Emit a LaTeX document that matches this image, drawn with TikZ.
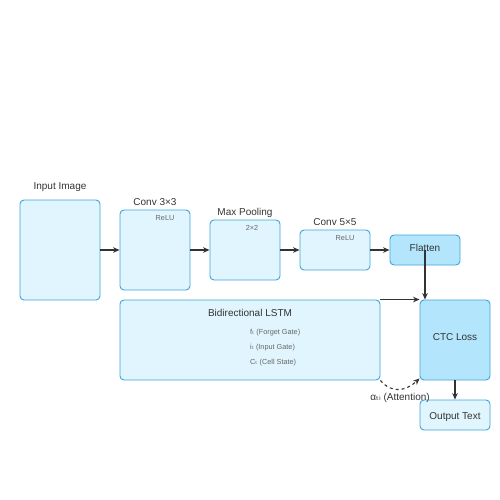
\documentclass[tikz,border=0pt]{standalone}
\usepackage{fontspec}
\setmainfont{Liberation Sans}
\newfontfamily\symfont{DejaVu Sans}
\usetikzlibrary{arrows.meta}
\definecolor{boxfill}{HTML}{E1F5FE}
\definecolor{boxfilldark}{HTML}{B3E5FC}
\definecolor{boxline}{HTML}{3FA4DC}
\definecolor{txt}{HTML}{333333}
\definecolor{smalltxt}{HTML}{666666}
\definecolor{arr}{HTML}{333333}
\tikzset{
  blk/.style={draw=boxline, fill=boxfill, line width=0.9pt, rounded corners=4pt, inner sep=0pt},
  blkdark/.style={blk, fill=boxfilldark},
  lbl/.style={text=txt, font=\fontsize{10}{12}\selectfont, inner sep=0pt},
  sml/.style={text=smalltxt, font=\fontsize{7.3}{8}\selectfont, inner sep=0pt},
  conn/.style={draw=arr, line width=1.1pt, -{Stealth[length=6.5pt,width=5.5pt]}},
}
\begin{document}
\begin{tikzpicture}[x=1pt,y=-1pt]
\useasboundingbox (0,0) rectangle (500,500);
% boxes
\node[blk, minimum width=80pt, minimum height=100pt] (inp) at (60,250) {};
\node[blk, minimum width=70pt, minimum height=80pt] (c3) at (155,250) {};
\node[blk, minimum width=70pt, minimum height=60pt] (mp) at (245,250) {};
\node[blk, minimum width=70pt, minimum height=40pt] (c5) at (335,250) {};
\node[blkdark, minimum width=70pt, minimum height=30pt] (fl) at (425,250) {};
\node[blk, minimum width=260pt, minimum height=80pt] (lstm) at (250,340) {};
\node[blkdark, minimum width=70pt, minimum height=80pt] (ctc) at (455,340) {};
\node[blk, minimum width=70pt, minimum height=30pt] (out) at (455,415) {};
% labels
\node[lbl] (tinp) at (60,187.5) {Input Image};
\node[lbl] (tc3) at (155,202.5) {Conv 3×3};
\node[sml] (rc3) at (165,218) {ReLU};
\node[lbl] (tmp) at (245,212.5) {Max Pooling};
\node[sml] (kmp) at (252,228) {2×2};
\node[lbl] (tc5) at (335,222.5) {Conv 5×5};
\node[sml] (rc5) at (345,238) {ReLU};
\node[lbl] (tfl) at (425,247.5) {Flatten};
\node[lbl] (tlstm) at (250,312.5) {Bidirectional LSTM};
\node[sml, anchor=west] (g1) at (250,333) {f{\symfont ₜ} (Forget Gate)};
\node[sml, anchor=west] (g2) at (250,348) {i{\symfont ₜ} (Input Gate)};
\node[sml, anchor=west] (g3) at (250,363) {C{\symfont ₜ} (Cell State)};
\node[lbl] (tctc) at (455,337.5) {CTC Loss};
\node[lbl] (tout) at (455,417.5) {Output Text};
\node[lbl] (tatt) at (400,397.5) {α{\symfont ₜᵢ} (Attention)};
% connectors
\draw[conn] (inp.east) -- (c3.west);
\draw[conn] (c3.east) -- (mp.west);
\draw[conn] (mp.east) -- (c5.west);
\draw[conn] (c5.east) -- (fl.west);
\draw[conn] (fl.center) -- (fl.center |- ctc.north);
\draw[conn] (lstm.north east) -- (ctc.north west);
\draw[conn, dashed] (lstm.south east) .. controls (392,394) and (406,391) .. ([yshift=2pt]ctc.south west);
\draw[conn] (ctc.south) -- (out.north);
\end{tikzpicture}
\end{document}
